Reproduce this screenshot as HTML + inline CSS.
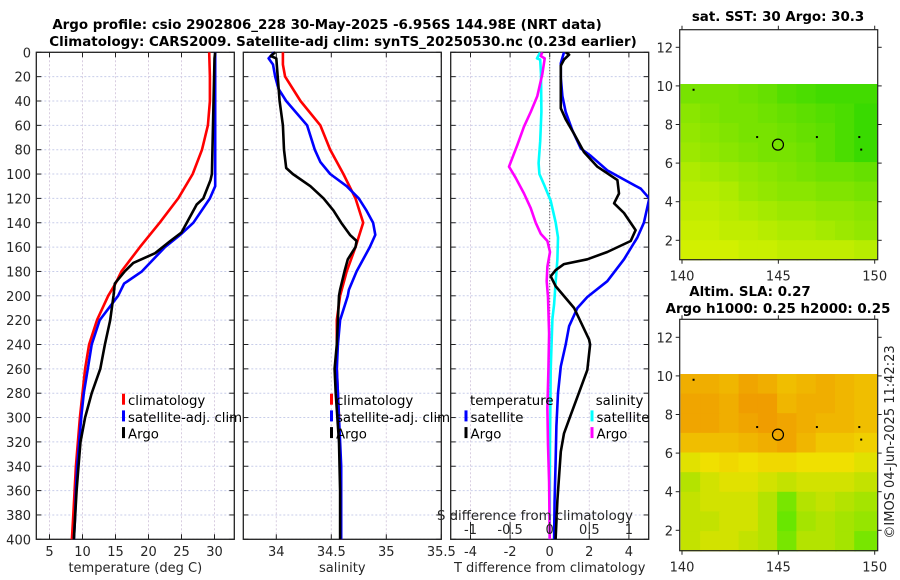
<!DOCTYPE html>
<html><head><meta charset="utf-8"><style>
html,body{margin:0;padding:0;background:#fff;}
svg{display:block;font-family:"DejaVu Sans","Liberation Sans",sans-serif;}
</style></head><body>
<svg id="fig" width="900" height="580" viewBox="0 0 900 580">
<text x="327" y="29" text-anchor="middle" font-size="13.4" font-weight="bold" fill="#000">Argo profile: csio 2902806_228 30-May-2025 -6.956S 144.98E (NRT data)</text>
<text x="343" y="46" text-anchor="middle" font-size="13.4" font-weight="bold" fill="#000">Climatology: CARS2009. Satellite-adj clim: synTS_20250530.nc (0.23d earlier)</text>
<text x="778" y="21" text-anchor="middle" font-size="13.4" font-weight="bold" fill="#000">sat. SST: 30 Argo: 30.3</text>
<text x="750" y="296" text-anchor="middle" font-size="13.4" font-weight="bold" fill="#000">Altim. SLA: 0.27</text>
<text x="778" y="313" text-anchor="middle" font-size="13.4" font-weight="bold" fill="#000">Argo h1000: 0.25 h2000: 0.25</text>
<text transform="translate(894,442) rotate(-90)" text-anchor="middle" font-size="13" fill="#222">©IMOS 04-Jun-2025 11:42:23</text>
</svg>
<script>
// ---- depth axis ----
const depthTicks = [0,20,40,60,80,100,120,140,160,180,200,220,240,260,280,300,320,340,360,380,400];
// ---- temperature panel ----
const tTicks = [5,10,15,20,25,30];
const climTDepth = [0,20,40,60,80,100,120,140,160,180,190,200,220,240,260,280,300,320,340,360,380,400];
const climT = [29.2,29.3,29.3,29.0,28.1,26.7,24.5,21.7,18.7,15.9,15.0,13.9,12.2,11.0,10.4,10.0,9.6,9.3,9.0,8.8,8.6,8.4];
const satTDepth = [0,100,110,120,140,150,160,180,190,200,220,240,260,280,300,320,340,360,380,400];
const satT = [30.1,30.1,30.1,29.3,26.8,24.8,22.5,19.0,16.3,15.4,12.6,11.4,10.8,10.2,9.8,9.5,9.2,9.0,8.9,8.7];
const argoTDepth = [0,5,100,105,120,125,140,148,155,165,173,180,190,200,220,240,260,280,300,320,340,360,380,400];
const argoT = [30.1,30.0,29.6,29.4,28.3,27.3,25.8,25.0,23.3,21.0,17.7,16.4,14.9,14.7,14.2,13.4,12.7,11.4,10.4,9.7,9.4,9.1,8.9,8.7];
// ---- salinity panel ----
const sTicks = [34,34.5,35,35.5];
const climSDepth = [0,10,20,40,60,80,100,120,140,160,180,200,220,260,300,340,400];
const climS = [34.06,34.06,34.08,34.22,34.40,34.49,34.61,34.72,34.79,34.72,34.64,34.58,34.55,34.55,34.57,34.58,34.59];
const satSDepth = [0,5,10,20,30,40,60,80,90,100,110,120,130,140,150,160,180,195,200,220,240,260,300,340,400];
const satS = [33.98,33.93,33.97,33.99,34.02,34.09,34.28,34.35,34.40,34.49,34.64,34.75,34.82,34.88,34.90,34.85,34.73,34.66,34.65,34.58,34.56,34.55,34.57,34.59,34.59];
const argoSDepth = [0,3,5,40,60,80,95,100,110,120,130,140,150,155,160,170,180,195,200,240,260,280,320,360,400];
const argoS = [33.99,33.95,34.00,34.03,34.06,34.07,34.09,34.15,34.31,34.43,34.52,34.59,34.67,34.73,34.72,34.65,34.62,34.58,34.57,34.55,34.53,34.54,34.57,34.58,34.58];
// ---- difference panel ----
const dTTicks = [-4,-2,0,2,4];
const dSTicks = [-1,-0.5,0,0.5,1];
const dSatTDepth = [0,9,21,36,49,64,79,85,97,106,112,120,140,152,170,188,201,210,225,240,258,280,307,337,368,400];
const dSatT = [0.72,0.56,0.56,0.64,0.81,1.14,1.57,2.07,2.91,3.92,4.6,5.03,4.76,4.43,3.75,2.91,1.90,1.40,0.98,0.81,0.56,0.42,0.34,0.30,0.25,0.22];
const dArgoTDepth = [0,2,6,11,46,55,67,82,94,105,116,124,132,146,155,164,170,174,179,184,192,210,236,240,261,283,298,313,328,368,400];
const dArgoT = [0.81,0.98,0.72,0.56,0.56,0.81,1.23,1.73,2.41,3.42,3.50,3.25,3.75,4.34,4.09,2.91,1.90,0.72,0.30,0.05,0.30,1.23,1.99,2.04,1.90,1.40,1.06,0.72,0.56,0.39,0.30];
const dSatSDepth = [0,5,6,18,49,73,91,100,109,122,140,152,170,188,207,219,261,322,400];
const dSatS = [-0.12,-0.16,-0.12,-0.11,-0.105,-0.12,-0.14,-0.13,-0.07,0.013,0.076,0.105,0.097,0.076,0.055,0.034,0.013,0.004,0];
const dArgoSDepth = [0,3,5,18,36,49,61,76,94,103,116,128,140,149,155,164,176,188,201,231,261,292,322,353,400];
const dArgoS = [-0.093,-0.114,-0.063,-0.093,-0.156,-0.24,-0.324,-0.408,-0.514,-0.43,-0.324,-0.24,-0.177,-0.114,-0.029,0.004,-0.029,-0.038,-0.021,-0.008,-0.017,-0.029,-0.021,-0.008,0];
// ---- maps ----
const lonTicks = [140,145,150];
const latTicks = [2,4,6,8,10,12];
const sstGrid = [
 [.5,.5,.5,.55,.6,.7,.75,.8,.8,.8],
 [.4,.45,.5,.5,.55,.6,.65,.7,.75,.85],
 [.35,.4,.45,.5,.5,.55,.6,.65,.75,.85],
 [.3,.35,.4,.45,.5,.5,.55,.65,.75,.85],
 [.2,.25,.3,.35,.4,.45,.5,.55,.55,.6],
 [.15,.15,.2,.3,.35,.4,.4,.45,.45,.5],
 [.1,.1,.15,.2,.25,.3,.3,.35,.35,.4],
 [.05,.05,.1,.1,.15,.2,.2,.25,.3,.35],
 [0,0,0,.05,.05,.1,.1,.1,.1,.15]];
const slaGrid = [
 [.8,.8,.75,.85,.8,.7,.75,.8,.75,.7],
 [.85,.85,.8,.9,.9,.75,.8,.8,.75,.7],
 [.85,.85,.8,.85,.9,.85,.8,.75,.75,.7],
 [.7,.7,.7,.75,.8,.85,.75,.65,.65,.6],
 [.45,.5,.55,.5,.55,.55,.5,.5,.5,.45],
 [.3,.4,.45,.45,.4,.35,.4,.4,.4,.35],
 [.35,.4,.4,.4,.3,.1,.3,.35,.3,.25],
 [.35,.35,.4,.4,.3,.05,.25,.3,.25,.2],
 [.35,.4,.4,.35,.3,.1,.3,.3,.25,.1]];
const floatLon = [144.98];
const floatLat = [6.956];
const otherLon = [140.6,143.9,147.0,149.2,149.3];
const otherLat = [9.8,7.35,7.35,7.35,6.7];

const NS='http://www.w3.org/2000/svg';
const svg=document.getElementById('fig');
function el(tag,attrs,parent){const e=document.createElementNS(NS,tag);for(const k in attrs)e.setAttribute(k,attrs[k]);(parent||svg).appendChild(e);return e;}
function txt(x,y,s,anchor,size,parent){const t=el('text',{x:x,y:y,'text-anchor':anchor||'middle','font-size':size||13,fill:'#262626'},parent);t.textContent=s;return t;}
const Y0=52.3,Y1=539.3;
function yD(d){return Y0+(Y1-Y0)*d/400;}
function mkX(x0,x1,v0,v1){return v=>x0+(x1-x0)*(v-v0)/(v1-v0);}

function panel(name,x0,x1,xs,xticks,xlabel,showY){
  const g=el('g',{});
  
  
  depthTicks.forEach(d=>{el('line',{x1:x0,x2:x1,y1:yD(d),y2:yD(d),stroke:'#c8cdea','stroke-width':1,'stroke-dasharray':'2,2'},g);});
  xticks.forEach(v=>{el('line',{x1:xs(v),x2:xs(v),y1:Y0,y2:Y1,stroke:'#d8cde0','stroke-width':1,'stroke-dasharray':'2,2'},g);});
  depthTicks.forEach(d=>{el('line',{x1:x0,x2:x0+5,y1:yD(d),y2:yD(d),stroke:'#222'},g);el('line',{x1:x1,x2:x1-5,y1:yD(d),y2:yD(d),stroke:'#222'},g);});
  xticks.forEach(v=>{el('line',{x1:xs(v),x2:xs(v),y1:Y1,y2:Y1-5,stroke:'#222'},g);el('line',{x1:xs(v),x2:xs(v),y1:Y0,y2:Y0+5,stroke:'#222'},g);});
  el('rect',{x:x0,y:Y0,width:x1-x0,height:Y1-Y0,fill:'none',stroke:'#222','stroke-width':1.3},g);
  xticks.forEach(v=>{const t=txt(xs(v),556,String(v),'middle',13,g);});
  const xl=txt((x0+x1)/2,572,xlabel,'middle',13,g);
  
  
  if(showY){depthTicks.forEach(d=>{const t=txt(31,yD(d)+5,String(d),'end',13,g);});}
  return g;
}
function line(g,xs,vals,depths,color,name,clipId){
  const pts=vals.map((v,i)=>xs(v).toFixed(1)+','+yD(depths[i]).toFixed(1)).join(' ');
  const p=el('polyline',{points:pts,fill:'none',stroke:color,'stroke-width':2.6,'stroke-linejoin':'round'},g);
  if(clipId)p.setAttribute('clip-path','url(#'+clipId+')');
  
  
  return p;
}
function legend(g,x,y,items){
  items.forEach((it,i)=>{
    el('rect',{x:x,y:y+i*16.7-7,width:3,height:11,fill:it[1]},g);
    const t=txt(x+6,y+i*16.7+4.5,it[0],'start',13.3,g);
    t.setAttribute('fill','#000');
    
    
  });
}
const defs=el('defs',{});
const cp=el('clipPath',{id:'c3'},defs);el('rect',{x:450.7,y:Y0,width:198,height:Y1-Y0},cp);

const xT=mkX(36.3,234.3,3,33);
const g1=panel('temperature-panel',36.3,234.3,xT,tTicks,'temperature (deg C)',true);
line(g1,xT,climT,climTDepth,'#ff0000','climatology-temperature-line');
line(g1,xT,satT,satTDepth,'#0000ff','satellite-temperature-line');
line(g1,xT,argoT,argoTDepth,'#000000','argo-temperature-line');
legend(g1,122,400.7,[['climatology','#ff0000'],['satellite-adj. clim','#0000ff'],['Argo','#000']]);

const xS=mkX(243.3,441.3,33.7,35.5);
const g2=panel('salinity-panel',243.3,441.3,xS,sTicks,'salinity',false);
line(g2,xS,climS,climSDepth,'#ff0000','climatology-salinity-line');
line(g2,xS,satS,satSDepth,'#0000ff','satellite-salinity-line');
line(g2,xS,argoS,argoSDepth,'#000000','argo-salinity-line');
legend(g2,330,400.7,[['climatology','#ff0000'],['satellite-adj. clim','#0000ff'],['Argo','#000']]);

const xdT=mkX(450.7,648.7,-5,5);
const xdS=mkX(450.7,648.7,-1.25,1.25);
const g3=panel('difference-panel',450.7,648.7,xdT,dTTicks,'T difference from climatology',false);
el('line',{x1:xdT(0),x2:xdT(0),y1:Y0,y2:Y1,stroke:'#333','stroke-width':1,'stroke-dasharray':'1,2'},g3);
line(g3,xdS,dSatS,dSatSDepth,'#00ffff','satellite-salinity-diff-line','c3');
line(g3,xdS,dArgoS,dArgoSDepth,'#ff00ff','argo-salinity-diff-line','c3');
line(g3,xdT,dSatT,dSatTDepth,'#0000ff','satellite-temperature-diff-line','c3');
line(g3,xdT,dArgoT,dArgoTDepth,'#000000','argo-temperature-diff-line','c3');
const tl=txt(470,405.2,'temperature','start',13.3,g3);tl.setAttribute('fill','#000');


const sl=txt(595.7,405.2,'salinity','start',13.3,g3);sl.setAttribute('fill','#000');


legend(g3,464.5,417.4,[['satellite','#0000ff'],['Argo','#000']]);
legend(g3,590.5,417.4,[['satellite','#00ffff'],['Argo','#ff00ff']]);
const sdl=txt(535,520,'S difference from climatology','middle',13.3,g3);


dSTicks.forEach(v=>{el('line',{x1:xdS(v),x2:xdS(v),y1:522,y2:534,stroke:'#222'},g3);const t=txt(xdS(v),534,String(v),'middle',13,g3);});

function sstColor(v){return 'rgb('+Math.round(210-180*v)+','+Math.round(240-26*v)+',0)';}
function slaColor(v){if(v>=0.5){const t=(v-0.5)/0.5;return 'rgb(240,'+Math.round(224-84*t)+',0)';}const t=v/0.5;return 'rgb('+Math.round(90+150*t)+','+Math.round(232-8*t)+',0)';}
function map(name,top,bottom,grid,colorFn){
  const g=el('g',{});
  
  
  const x0=679.7,x1=877.7;
  const xL=mkX(682,874.7,140,150);
  const lat12y=top+(name==='sst-map'?17.6:18);
  const pxPerDeg=19.3;
  const yLat=v=>lat12y+(12-v)*pxPerDeg;
  const latTop=10.1, latBot=(bottom-lat12y)/pxPerDeg*-1+12;
  const rows=grid.length, rh=(latTop-latBot)/rows;
  grid.forEach((row,r)=>row.forEach((v,c)=>{
    const xa=xL(140+c)-1.2, xb=xL(141+c)+(c===9?2:0);
    const cell=el('rect',{x:(c===0?x0+0.8:xa).toFixed(1),y:yLat(latTop-r*rh).toFixed(1),width:((xb-(c===0?x0+0.8:xa))+0.6).toFixed(1),height:(rh*pxPerDeg+0.6).toFixed(1),fill:colorFn(v)},g);
    
    
  }));
  otherLon.forEach((lo,i)=>{const d=el('rect',{x:xL(lo)-1,y:yLat(otherLat[i])-1,width:2,height:2,fill:'#000'},g);});
  floatLon.forEach((lo,i)=>{const c=el('circle',{cx:xL(lo),cy:yLat(floatLat[i]),r:5.5,fill:'none',stroke:'#000','stroke-width':1.2},g);});
  el('rect',{x:x0,y:top,width:x1-x0,height:bottom-top,fill:'none',stroke:'#222','stroke-width':1.2},g);
  lonTicks.forEach(v=>{el('line',{x1:xL(v),x2:xL(v),y1:bottom,y2:bottom+4,stroke:'#222'},g);el('line',{x1:xL(v),x2:xL(v),y1:top,y2:top-4,stroke:'#222'},g);const t=txt(xL(v),bottom+21,String(v),'middle',13,g);});
  latTicks.forEach(v=>{el('line',{x1:x0,x2:x0-4,y1:yLat(v),y2:yLat(v),stroke:'#222'},g);el('line',{x1:x1,x2:x1+4,y1:yLat(v),y2:yLat(v),stroke:'#222'},g);const t=txt(673,yLat(v)+5,String(v),'end',13,g);});
}
map('sst-map',29.7,259.7,sstGrid,sstColor);
map('sla-map',319.3,550.7,slaGrid,slaColor);
</script>
</body></html>
